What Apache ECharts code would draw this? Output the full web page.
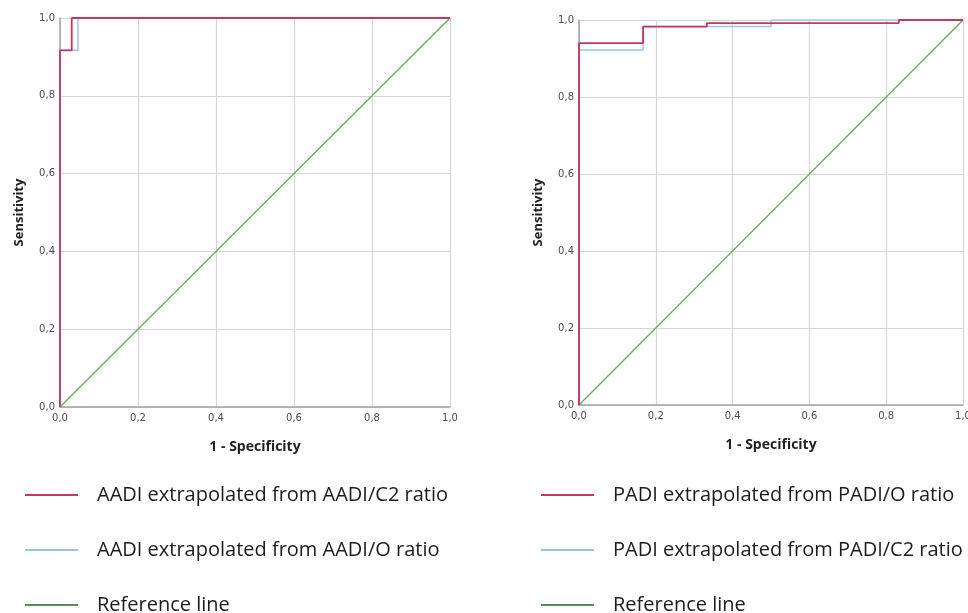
<!DOCTYPE html>
<html>
<head>
<meta charset="utf-8">
<title>ROC curves</title>
<script src="https://cdn.jsdelivr.net/npm/echarts@6/dist/echarts.min.js"></script>
<style>
  html, body { margin: 0; padding: 0; background: #fff; }
  #chart { width: 968px; height: 613px; }
</style>
</head>
<body>
<div id="chart"></div>
<script>
// left panel: AADI
const aadiC2Fpr = [0, 0, 0.03, 0.03, 1];
const aadiC2Sens = [0, 0.917, 0.917, 1, 1];
const aadiOFpr = [0, 0, 0.046, 0.046, 1];
const aadiOSens = [0, 0.917, 0.917, 1, 1];

// right panel: PADI
const padiOFpr = [0, 0, 0.167, 0.167, 0.333, 0.333, 0.833, 0.833, 1];
const padiOSens = [0, 0.94, 0.94, 0.983, 0.983, 0.992, 0.992, 1, 1];
const padiC2Fpr = [0, 0, 0.167, 0.167, 0.5, 0.5, 1];
const padiC2Sens = [0, 0.922, 0.922, 0.983, 0.983, 1, 1];

const refFpr = [0, 1];
const refSens = [0, 1];

const leftNames = ['AADI extrapolated from AADI/C2 ratio', 'AADI extrapolated from AADI/O ratio', 'Reference line'];
const rightNames = ['PADI extrapolated from PADI/O ratio', 'PADI extrapolated from PADI/C2 ratio', 'Reference line'];

const RED = '#c4375f';
const BLUE = '#9cc3ea';
const GREEN = '#6aa862';
const GREEN_KEY = '#5a8f54';

const zip = (xs, ys) => xs.map((x, i) => [x, ys[i]]);
const fmt = v => v.toFixed(1).replace('.', ',');

const axisBase = {
    type: 'value',
    min: 0,
    max: 1,
    interval: 0.2,
    axisLine: { show: true, lineStyle: { color: '#a3a3a3', width: 1.5 } },
    axisTick: { show: false },
    splitLine: { show: true, lineStyle: { color: '#d6d6d6', width: 1.2 } },
    axisLabel: {
        formatter: fmt,
        color: '#4a4a4a',
        fontSize: 10,
        fontFamily: 'DejaVu Sans'
    },
    nameTextStyle: {
        fontFamily: 'Open Sans',
        fontWeight: 'bold',
        color: '#222',
        fontSize: 14
    }
};

const xAxisFor = (gi) => Object.assign({}, axisBase, {
    gridIndex: gi,
    name: '1 - Specificity',
    nameLocation: 'middle',
    nameGap: 33,
    axisLabel: Object.assign({}, axisBase.axisLabel, { margin: 6, showMaxLabel: true })
});
const yAxisFor = (gi) => Object.assign({}, axisBase, {
    gridIndex: gi,
    name: 'Sensitivity',
    nameLocation: 'middle',
    nameGap: 34,
    nameTextStyle: Object.assign({}, axisBase.nameTextStyle, { fontSize: 13 }),
    axisLabel: Object.assign({}, axisBase.axisLabel, { margin: 5 })
});

const lineSeries = (name, data, color, gi, width) => ({
    name: name,
    type: 'line',
    xAxisIndex: gi,
    yAxisIndex: gi,
    data: data,
    showSymbol: false,
    symbol: 'none',
    silent: true,
    animation: false,
    lineStyle: { color: color, width: width },
    itemStyle: { color: color }
});

// legend keys: the reference line key is a darker green than the plotted line
const legendFor = (left, names) => ({
    left: left,
    top: 485,
    height: 160,
    padding: 0,
    orient: 'vertical',
    data: names.map(n => n === 'Reference line'
        ? { name: n, itemStyle: { color: GREEN_KEY } }
        : n),
    icon: 'rect',
    itemWidth: 53,
    itemHeight: 2,
    itemGap: 35,
    selectedMode: false,
    textStyle: {
        fontFamily: 'Open Sans',
        fontSize: 20,
        lineHeight: 20,
        color: '#1c1c1c',
        padding: [0, 0, 0, 14]
    }
});

const option = {
    backgroundColor: '#ffffff',
    animation: false,
    grid: [
        { left: 60, top: 18, width: 390, height: 389, outerBoundsMode: 'none' },
        { left: 579, top: 20, width: 384, height: 385, outerBoundsMode: 'none' }
    ],
    xAxis: [xAxisFor(0), xAxisFor(1)],
    yAxis: [yAxisFor(0), yAxisFor(1)],
    legend: [legendFor(25, leftNames), legendFor(541, rightNames)],
    series: [
        lineSeries('Reference line', zip(refFpr, refSens), GREEN, 0, 1.3),
        lineSeries(leftNames[1], zip(aadiOFpr, aadiOSens), BLUE, 0, 1.5),
        lineSeries(leftNames[0], zip(aadiC2Fpr, aadiC2Sens), RED, 0, 1.8),
        lineSeries('Reference line', zip(refFpr, refSens), GREEN, 1, 1.3),
        lineSeries(rightNames[1], zip(padiC2Fpr, padiC2Sens), BLUE, 1, 1.5),
        lineSeries(rightNames[0], zip(padiOFpr, padiOSens), RED, 1, 1.8)
    ]
};

const chart = echarts.init(document.getElementById('chart'), null, { renderer: 'canvas' });
chart.setOption(option);
</script>
</body>
</html>
